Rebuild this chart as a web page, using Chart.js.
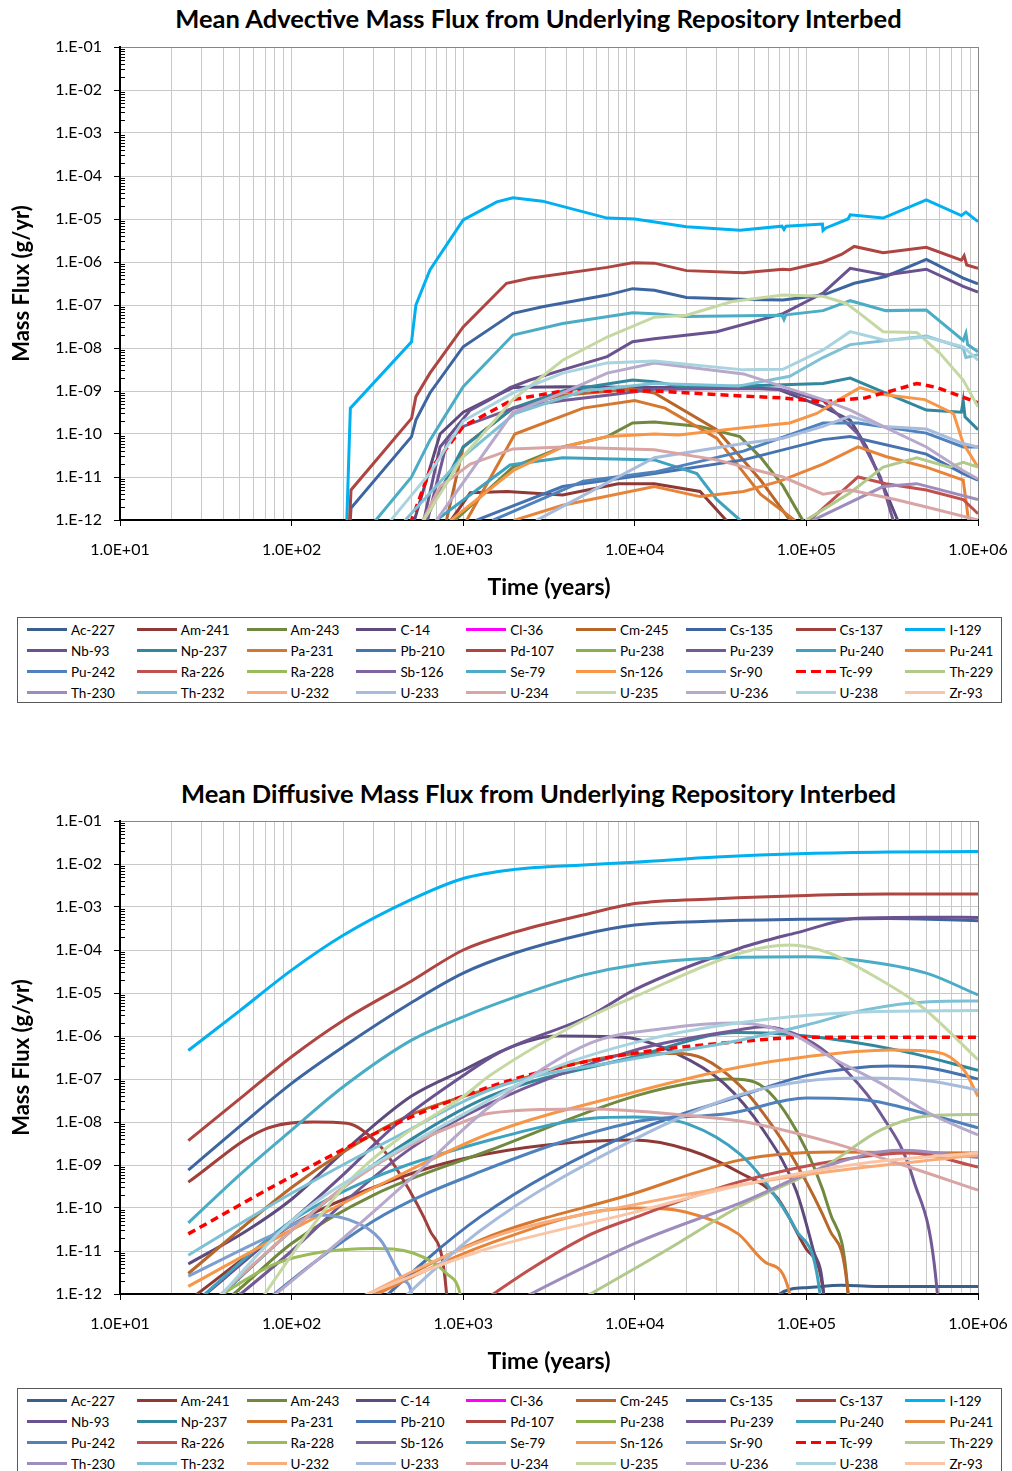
<!DOCTYPE html>
<html>
<head>
<meta charset="utf-8">
<script src="https://cdn.jsdelivr.net/npm/chart.js@4"></script>
<style>
  body { margin: 0; background: #fff; font-family: Lato, "Open Sans", sans-serif; }
  .page { position: relative; width: 1012px; height: 1471px; overflow: hidden; }
  canvas { position: absolute; left: 0; }
  .title { position: absolute; left: 0; width: 1077px; text-align: center; font-weight: bold; font-size: 25.5px; line-height: 28px; color: #000; }
  .legend { position: absolute; left: 17px; width: 985px; height: 86px; border: 1px solid #595959; box-sizing: border-box;
            padding: 1px 0 0 9px; display: grid; grid-template-columns: repeat(9, 109.8px); grid-auto-rows: 21px; }
  .item { display: flex; align-items: center; font-size: 13.5px; color: #000; white-space: nowrap; }
  .swatch { width: 40px; height: 3px; margin-right: 4px; flex: none; }
</style>
</head>
<body>
<div class="page">
  <div class="title" style="top:4px">Mean Advective Mass Flux from Underlying Repository Interbed</div>
  <canvas id="advChart" width="1012" height="612" style="top:0"></canvas>
  <div class="legend" id="advLegend" style="top:617px"></div>

  <div class="title" style="top:779px">Mean Diffusive Mass Flux from Underlying Repository Interbed</div>
  <canvas id="difChart" width="1012" height="612" style="top:774px"></canvas>
  <div class="legend" id="difLegend" style="top:1388px"></div>
</div>
<script>
/* --- names, colours, tick labels --- */
const nuclides = ['Ac-227','Am-241','Am-243','C-14','Cl-36','Cm-245','Cs-135','Cs-137','I-129',
  'Nb-93','Np-237','Pa-231','Pb-210','Pd-107','Pu-238','Pu-239','Pu-240','Pu-241',
  'Pu-242','Ra-226','Ra-228','Sb-126','Se-79','Sn-126','Sr-90','Tc-99','Th-229',
  'Th-230','Th-232','U-232','U-233','U-234','U-235','U-236','U-238','Zr-93'];
const colors = ['#3A5F8D','#8E3936','#71893F','#5E4A7D','#FF00FF','#B8662A','#3D65A0','#A0403D','#00B0F0',
  '#6A5290','#31879E','#D6772F','#4673B0','#AE4541','#8CAF4C','#735A96','#3EA2BF','#E8843A',
  '#4F81BD','#C0504D','#9BBB59','#8064A2','#4BACC6','#F79646','#7E9ECF','#FF0000','#B1C98A',
  '#9E8CBD','#7EC1D4','#F9AC7A','#A7BCDC','#D9A5A4','#C5D8A2','#B7A9CC','#A8D3DF','#FAC4A6'];
const xDecades = [1e1, 1e2, 1e3, 1e4, 1e5, 1e6];
const xTickLabels = ['1.0E+01','1.0E+02','1.0E+03','1.0E+04','1.0E+05','1.0E+06'];
const yDecades = [1e-12, 1e-11, 1e-10, 1e-9, 1e-8, 1e-7, 1e-6, 1e-5, 1e-4, 1e-3, 1e-2, 1e-1];
const yTickLabels = ['1.E-12','1.E-11','1.E-10','1.E-09','1.E-08','1.E-07','1.E-06','1.E-05','1.E-04','1.E-03','1.E-02','1.E-01'];

/* --- advective flux, [time (yr), g/yr] --- */
const advAc227 = [];
const advAm241 = [[830,1e-13],[850,1e-12],[1100,4.3e-12],[1800,4.6e-12],[3800,3.8e-12],[8000,7e-12],[1.3e4,7e-12],[2.4e4,4.6e-12],[3.4e4,1e-12],[3.5e4,1e-13]];
const advAm243 = [[880,1e-13],[900,1e-12],[1950,1.7e-11],[3800,5e-11],[6900,8.7e-11],[9700,1.8e-10],[1.3e4,1.9e-10],[2.4e4,1.5e-10],[4.1e4,8.7e-11],[5.4e4,2.9e-11],[7.3e4,6.2e-12],[9.5e4,1e-12],[9.7e4,1e-13]];
const advC14 = [[500,1e-13],[520,1e-12],[733,1e-10],[1000,3.2e-10],[1430,6.6e-10],[1950,1.2e-9],[3800,1.26e-9],[1.3e4,1.2e-9],[4.3e4,1.2e-9],[6.8e4,1.1e-9],[1.25e5,4.3e-10],[1.8e5,2.1e-10],[2.24e5,5e-11],[2.8e5,6.3e-12],[3.4e5,1e-12],[3.5e5,1e-13]];
const advCl36 = [];
const advCm245 = [[780,1e-13],[800,1e-12],[1000,5e-11],[1950,4e-10],[3800,8e-10],[9700,1.1e-9],[1.3e4,9e-10],[3e4,1.26e-10],[5.4e4,8.5e-12],[8e4,1e-12],[8.2e4,1e-13]];
const advCs135 = [[212,1e-13],[222,1.9e-12],[500,8.7e-11],[530,2.1e-10],[640,9e-10],[1000,1.07e-8],[1950,6.4e-8],[2900,9.1e-8],[6900,1.7e-7],[9700,2.4e-7],[1.3e4,2.2e-7],[2e4,1.5e-7],[4.6e4,1.35e-7],[7.3e4,1.3e-7],[1.25e5,1.7e-7],[1.9e5,3.2e-7],[2.9e5,4.6e-7],[5e5,1.15e-6],[8.2e5,4.2e-7],[1e6,3.1e-7]];
const advCs137 = [];
const advI129 = [[206,1e-13],[220,4e-10],[500,1.4e-8],[530,1e-7],[640,6.5e-7],[1000,9.5e-6],[1570,2.5e-5],[1950,3.1e-5],[2900,2.6e-5],[6900,1.05e-5],[1e4,1e-5],[2e4,6.6e-6],[4.1e4,5.5e-6],[7.2e4,6.8e-6],[7.4e4,5.7e-6],[7.6e4,6.8e-6],[1.24e5,7.6e-6],[1.25e5,5.4e-6],[1.3e5,6.2e-6],[1.75e5,1e-5],[1.8e5,1.25e-5],[2.8e5,1.05e-5],[5e5,2.8e-5],[8e5,1.2e-5],[8.5e5,1.45e-5],[1e6,8.7e-6]];
const advNb93 = [[580,1e-13],[590,1e-12],[733,5e-11],[1100,3.6e-10],[1430,6.3e-10],[1875,1.2e-9],[2450,1.8e-9],[3800,3.1e-9],[6900,6.3e-9],[9700,1.4e-8],[1.3e4,1.65e-8],[3e4,2.4e-8],[7.3e4,6.3e-8],[1.25e5,1.9e-7],[1.8e5,7.1e-7],[2.9e5,5e-7],[5e5,6.8e-7],[8.2e5,2.7e-7],[1e6,2e-7]];
const advNp237 = [[580,1e-13],[600,1e-12],[1000,5e-11],[1950,4e-10],[3800,1e-9],[9700,1.8e-9],[1.3e4,1.65e-9],[2e4,1.2e-9],[4.3e4,1.3e-9],[1.25e5,1.5e-9],[1.8e5,2e-9],[2.9e5,8.9e-10],[5e5,3.6e-10],[8e5,3.2e-10],[8.2e5,6e-10],[8.4e5,2.5e-10],[1e6,1.26e-10]];
const advPa231 = [[1000,1e-13],[1050,1e-12],[2000,1e-10],[5000,4e-10],[1e4,6e-10],[1.5e4,4e-10],[3e4,8e-11],[5.4e4,4e-12],[8.5e4,1e-12],[8.7e4,1e-13]];
const advPb210 = [[1150,1e-13],[1200,1e-12],[3800,6e-12],[1.3e4,1.2e-11],[4.3e4,2.5e-11],[1.25e5,7.4e-11],[1.8e5,8.7e-11],[5e5,3.4e-11],[8.2e5,1.2e-11],[1e6,8.5e-12]];
const advPd107 = [[212,1e-13],[222,5e-12],[500,2.3e-10],[530,7.4e-10],[640,2.6e-9],[1000,3.1e-8],[1790,3.2e-7],[2450,4.2e-7],[6900,7.5e-7],[9700,9.6e-7],[1.3e4,9.4e-7],[2e4,6.3e-7],[4.3e4,5.6e-7],[7.3e4,6.8e-7],[8e4,6.6e-7],[1.25e5,1e-6],[1.6e5,1.5e-6],[1.9e5,2.3e-6],[2.8e5,1.65e-6],[5e5,2.2e-6],[8e5,1.1e-6],[8.3e5,1.4e-6],[8.6e5,8.5e-7],[1e6,7.1e-7]];
const advPu238 = [];
const advPu239 = [[600,1e-13],[620,1e-12],[800,6e-11],[1000,1.5e-10],[1950,4e-10],[3800,6e-10],[6900,8e-10],[1.3e4,1.1e-9],[4.3e4,1.15e-9],[7e4,1.1e-9],[1.25e5,6e-10],[2e5,1e-10],[2.7e5,1e-11],[3.2e5,1e-12],[3.3e5,1e-13]];
const advPu240 = [[680,1e-13],[700,1e-12],[1875,1.9e-11],[3800,2.8e-11],[1.3e4,2.5e-11],[2.3e4,1.2e-11],[3e4,3e-12],[4.1e4,1e-12],[4.2e4,1e-13]];
const advPu241 = [[1950,1e-13],[2000,1e-12],[3800,2.2e-12],[1.3e4,6e-12],[2.4e4,3.5e-12],[4.3e4,4.6e-12],[7e4,8e-12],[1.25e5,2e-11],[2e5,5e-11],[2.9e5,3e-11],[5e5,1.7e-11],[8.2e5,8.5e-12],[8.8e5,1e-12],[9e5,1e-13]];
const advPu242 = [[1450,1e-13],[1500,1e-12],[5000,8e-12],[1.3e4,1.3e-11],[4.3e4,4e-11],[1.25e5,1.8e-10],[2e5,1.8e-10],[5e5,1.05e-10],[8.2e5,5e-11],[1e6,5e-11]];
const advRa226 = [[1e5,1e-13],[1.05e5,1e-12],[2e5,1e-11],[2.9e5,7e-12],[5e5,5e-12],[8.2e5,3e-12],[1e6,1.4e-12]];
const advRa228 = [];
const advSb126 = [];
const advSe79 = [[300,1e-13],[310,1e-12],[500,1e-11],[640,7.2e-11],[1000,1.26e-9],[1950,2e-8],[3800,3.7e-8],[9700,6.6e-8],[1.3e4,6.3e-8],[2e4,5.4e-8],[7.2e4,5.8e-8],[7.4e4,4.6e-8],[7.6e4,5.9e-8],[1.25e5,7.4e-8],[1.8e5,1.26e-7],[2.9e5,7.4e-8],[5e5,7.6e-8],[8.2e5,1.5e-8],[8.5e5,2.2e-8],[8.7e5,1.2e-8],[1e6,8.2e-9]];
const advSn126 = [[830,1e-13],[850,1e-12],[1950,1.4e-11],[3800,5e-11],[6900,8.7e-11],[1.3e4,1e-10],[1.8e4,9.5e-11],[4.3e4,1.4e-10],[8e4,1.8e-10],[1.15e5,3e-10],[1.55e5,6.3e-10],[2.05e5,1.2e-9],[2.8e5,8.3e-10],[4.9e5,6.3e-10],[7.2e5,3e-10],[8.2e5,6e-11],[1e6,1.7e-11]];
const advSr90 = [];
const advTc99 = [[490,1e-13],[500,1e-12],[640,1.45e-11],[1000,1.5e-10],[1950,6.3e-10],[3800,1e-9],[1.3e4,1e-9],[4.3e4,7.6e-10],[7.3e4,6.9e-10],[1.25e5,5.6e-10],[2.2e5,6.9e-10],[3.4e5,1.1e-9],[4.4e5,1.5e-9],[5.8e5,1.2e-9],[1e6,5.3e-10]];
const advTh229 = [[9.5e4,1e-13],[1e5,1e-12],[1.8e5,4.3e-12],[2.8e5,1.7e-11],[4.4e5,2.8e-11],[6.8e5,1.7e-11],[8.2e5,2.2e-11],[1e6,1.7e-11]];
const advTh230 = [[1.05e5,1e-13],[1.1e5,1e-12],[2.8e5,6e-12],[4.4e5,7e-12],[1e6,3e-12]];
const advTh232 = [[450,1e-13],[460,1e-12],[1000,3e-11],[2000,3e-10],[5000,1e-9],[1.3e4,1.5e-9],[4e4,1.3e-9],[8e4,2.2e-9],[1.25e5,6e-9],[1.8e5,1.2e-8],[5e5,1.9e-8],[8.2e5,1e-8],[8.5e5,6e-9],[1e6,7e-9]];
const advU232 = [];
const advU233 = [[2600,1e-13],[2700,1e-12],[1.3e4,2.8e-11],[4.3e4,6e-11],[7.3e4,8e-11],[1.25e5,1.5e-10],[1.8e5,2.6e-10],[2.8e5,1.5e-10],[5e5,1.3e-10],[8.2e5,6e-11],[1e6,5e-11]];
const advU234 = [[570,1e-13],[584,1e-12],[733,6e-12],[1100,2e-11],[1950,4.5e-11],[3800,5e-11],[1.3e4,4.3e-11],[3e4,2.5e-11],[7.3e4,1e-11],[1.25e5,4e-12],[1.8e5,5e-12],[3.3e5,3e-12],[5e5,2e-12],[1e6,1e-12]];
const advU235 = [[580,1e-13],[590,1e-12],[1000,3e-11],[1950,6.3e-10],[3800,5.2e-9],[6900,1.8e-8],[1.3e4,5.2e-8],[2e4,5.8e-8],[3.7e4,1.2e-7],[7.3e4,1.7e-7],[1.25e5,1.6e-7],[1.7e5,1.1e-7],[2.05e5,6.3e-8],[2.8e5,2.4e-8],[4.4e5,2.3e-8],[6e5,7.5e-9],[8.2e5,1.8e-9],[1e6,4.3e-10]];
const advU236 = [[680,1e-13],[700,1e-12],[1950,3.2e-10],[3800,9e-10],[6900,2.6e-9],[1.3e4,4.5e-9],[4.3e4,2.5e-9],[1.25e5,6.3e-10],[1.8e5,3.6e-10],[2.8e5,1.5e-10],[5e5,5e-11],[8.2e5,1.4e-11],[1e6,9e-12]];
const advU238 = [[370,1e-13],[380,1e-12],[640,1.25e-11],[1000,2e-10],[1950,9e-10],[3800,2.6e-9],[6900,4.5e-9],[1.3e4,5e-9],[4.3e4,3.1e-9],[7.3e4,3.2e-9],[1.25e5,9e-9],[1.8e5,2.4e-8],[2.9e5,1.5e-8],[5e5,1.8e-8],[8.2e5,1.07e-8],[1e6,5.2e-9]];
const advZr93 = [];

/* --- diffusive flux, [time (yr), g/yr] --- */
const difAc227 = [[6e4,1e-13],[7e4,1e-12],[1e5,1.4e-12],[1.6e5,1.6e-12],[2.5e5,1.5e-12],[1e6,1.5e-12]];
const difAm241 = [[25,7e-13],[100,4e-11],[300,3e-10],[1000,1.4e-9],[1e4,3.8e-9],[2.1e4,2.2e-9],[4.1e4,6.6e-10],[6.7e4,1.8e-10],[1e5,1.1e-11],[1.26e5,1e-12],[1.3e5,1e-13]];
const difAm243 = [[25,1.6e-13],[46,1e-12],[100,1.5e-11],[300,2e-10],[1430,2.2e-9],[1e4,4e-8],[2.5e4,9e-8],[3.6e4,1e-7],[5e4,8.5e-8],[8.7e4,6.5e-9],[1.37e5,8e-11],[1.75e5,1e-12],[1.8e5,1e-13]];
const difC14 = [[25,5e-12],[55,3e-11],[100,1.6e-10],[200,2e-9],[500,4e-8],[1000,1.6e-7],[2000,6e-7],[3500,1e-6],[8600,9.3e-7],[1.75e4,3.9e-7],[3.3e4,8e-8],[5.6e4,6.5e-9],[8.7e4,2.6e-10],[1.1e5,1e-11],[1.26e5,1e-12],[1.3e5,1e-13]];
const difCl36 = [];
const difCm245 = [[25,3e-12],[100,3e-10],[200,2e-9],[500,1.5e-8],[1430,6e-8],[5000,2.5e-7],[1e4,3.8e-7],[1.75e4,3.9e-7],[2.5e4,3e-7],[4.1e4,7e-8],[5.6e4,1.6e-8],[8.7e4,1.1e-9],[1.37e5,3e-11],[1.75e5,1e-12],[1.8e5,1e-13]];
const difCs135 = [[25,7.6e-10],[50,8e-9],[100,7.9e-8],[200,5.6e-7],[500,6e-6],[1000,2.9e-5],[2000,8.5e-5],[5000,2.3e-4],[1e4,3.8e-4],[3e4,4.7e-4],[1e5,5.2e-4],[3e5,5.4e-4],[1e6,4.8e-4]];
const difCs137 = [[25,4e-10],[68,6.5e-9],[134,1e-8],[210,9.3e-9],[330,2.7e-9],[410,8e-10],[640,3e-11],[800,1e-12],[820,1e-13]];
const difI129 = [[25,4.6e-7],[50,3.9e-6],[100,3.4e-5],[200,2.2e-4],[500,1.5e-3],[1000,4.6e-3],[2000,7.5e-3],[5000,9.5e-3],[1e4,1.1e-2],[3e4,1.45e-2],[1e5,1.75e-2],[3e5,1.9e-2],[1e6,1.95e-2]];
const difNb93 = [[25,4.5e-13],[100,5e-11],[200,6e-10],[410,9e-9],[1000,1.2e-7],[1600,4e-7],[5500,3e-6],[1e4,1.2e-5],[4.1e4,1.1e-4],[8.7e4,2.5e-4],[2e5,5.5e-4],[5e5,5.8e-4],[1e6,5.7e-4]];
const difNp237 = [[25,1.8e-13],[100,3e-11],[200,3e-10],[500,4e-9],[1430,4e-8],[1e4,3.3e-7],[4e4,1.2e-6],[1e5,1e-6],[3.4e5,4.7e-7],[1e6,1.6e-7]];
const difPa231 = [[100,8e-14],[1260,1.8e-11],[1e4,2.2e-10],[4.1e4,1.3e-9],[1.4e5,2e-9],[1e6,1.9e-9]];
const difPb210 = [[150,4e-14],[1260,6.3e-11],[1e4,6e-9],[4.1e4,4e-8],[1e5,1.2e-7],[3.1e5,2e-7],[5.2e5,1.8e-7],[1e6,1e-7]];
const difPd107 = [[25,3.7e-9],[50,3.5e-8],[100,3.3e-7],[200,2.3e-6],[500,1.9e-5],[1000,1e-4],[2000,2.6e-4],[5000,6.5e-4],[1e4,1.2e-3],[3e4,1.55e-3],[1e5,1.85e-3],[3e5,2e-3],[1e6,2e-3]];
const difPu238 = [];
const difPu239 = [[25,1e-13],[100,1e-11],[200,1.3e-10],[500,2.5e-9],[1430,2.7e-8],[1e4,4.7e-7],[4.1e4,1.4e-6],[5.6e4,1.65e-6],[1.1e5,6.8e-7],[1.75e5,1.4e-7],[2.7e5,1.6e-8],[4.2e5,4.6e-10],[5.8e5,1e-12],[6e5,1e-13]];
const difPu240 = [[25,4.6e-13],[100,5e-11],[300,5e-10],[1430,3.8e-9],[5500,1.2e-8],[1e4,1.3e-8],[2.1e4,8.6e-9],[4.1e4,1.8e-9],[5.6e4,4.6e-10],[8.7e4,3.1e-11],[1.2e5,1e-12],[1.25e5,1e-13]];
const difPu241 = [[100,1e-13],[1430,1.5e-11],[1e4,1e-10],[2e4,8e-11],[4e4,2.5e-11],[6e4,5e-12],[8e4,1e-12],[8.2e4,1e-13]];
const difPu242 = [[25,2.4e-14],[300,5e-11],[1260,7e-10],[1e4,1e-8],[3.6e4,1.6e-8],[1e5,3.6e-8],[2.15e5,3.3e-8],[5.2e5,1.5e-8],[1e6,7.3e-9]];
const difRa226 = [[500,5e-14],[5000,2e-11],[1e4,6e-11],[4e4,4e-10],[1.75e5,1.4e-9],[4e5,1.9e-9],[1e6,9e-10]];
const difRa228 = [[25,3e-13],[80,5e-12],[150,9.5e-12],[300,1.15e-11],[510,9e-12],[800,3e-12],[960,1e-12],[1050,1e-13]];
const difSb126 = [];
const difSe79 = [[25,4.5e-11],[50,6e-10],[100,6.5e-9],[200,6.6e-8],[500,8e-7],[1000,2.8e-6],[2000,8e-6],[5000,2.6e-5],[1e4,4.5e-5],[3e4,6.5e-5],[1e5,7e-5],[2e5,5.8e-5],[5e5,2.9e-5],[1e6,9e-6]];
const difSn126 = [[25,1.5e-12],[100,3.1e-11],[410,5.4e-10],[1430,5.4e-9],[1e4,5e-8],[4.1e4,1.9e-7],[1e5,3.3e-7],[3.1e5,4.7e-7],[5.8e5,4.2e-7],[8.3e5,1.6e-7],[1e6,3.9e-8]];
const difSr90 = [[25,2.6e-12],[80,2.5e-11],[147,6.9e-11],[240,4.5e-11],[330,1.8e-11],[450,2.1e-12],[500,1e-12],[520,1e-13]];
const difTc99 = [[25,2.5e-11],[100,5.4e-10],[410,9.3e-9],[1430,6.6e-8],[3500,1.8e-7],[1e4,4e-7],[4.1e4,7.4e-7],[1e5,9.3e-7],[1e6,9.3e-7]];
const difTh229 = [[2000,1e-13],[1.5e4,1e-11],[4.1e4,1.1e-10],[1.37e5,1.1e-9],[2.7e5,6.5e-9],[5.2e5,1.4e-8],[1e6,1.5e-8]];
const difTh230 = [[800,1e-13],[1e4,1.5e-11],[4.1e4,1.3e-10],[1.37e5,1e-9],[3.5e5,2.2e-9],[1e6,1.5e-9]];
const difTh232 = [[25,8e-12],[100,2.2e-10],[410,4.6e-9],[1600,6.6e-8],[1e4,3e-7],[4.1e4,8e-7],[1e5,1.8e-6],[2.15e5,4e-6],[5.2e5,6.3e-6],[1e6,6.5e-6]];
const difU232 = [[90,1e-13],[1430,2e-11],[1e4,1.2e-10],[1e5,6e-10],[1e6,1.7e-9]];
const difU233 = [[250,9e-14],[1260,3e-11],[1e4,4e-9],[4.1e4,4.3e-8],[1e5,9e-8],[2.15e5,1.05e-7],[5.2e5,9e-8],[1e6,5.5e-8]];
const difU234 = [[25,2e-13],[100,3e-11],[200,3e-10],[500,3e-9],[1000,1e-8],[1430,1.6e-8],[5500,2e-8],[2.1e4,1.4e-8],[4.1e4,1.05e-8],[1.37e5,3.4e-9],[3.4e5,1.1e-9],[1e6,2.6e-10]];
const difU235 = [[40,4e-14],[200,3e-10],[410,3.8e-9],[1000,3.9e-8],[1430,1.2e-7],[5500,2.8e-6],[1e4,8.2e-6],[4.1e4,8.4e-5],[8e4,1.3e-4],[1.37e5,8.4e-5],[2.15e5,3.4e-5],[4.7e5,4.8e-6],[1e6,2.8e-7]];
const difU236 = [[40,1e-13],[200,2e-11],[500,5e-10],[1430,2.3e-8],[5500,6.8e-7],[1.5e4,1.5e-6],[4e4,2e-6],[8.7e4,1e-6],[1.37e5,3.3e-7],[2.7e5,8e-8],[5.2e5,1.6e-8],[1e6,5e-9]];
const difU238 = [[25,1.3e-13],[100,5e-11],[300,1e-9],[1000,1.5e-8],[3000,1.5e-7],[1e4,7e-7],[3.6e4,1.9e-6],[2.15e5,3.6e-6],[1e6,3.9e-6]];
const difZr93 = [[70,1e-13],[1260,1e-11],[1e4,8e-11],[3.6e4,3e-10],[2.15e5,1.1e-9],[1e6,1.9e-9]];

const advSeries = [advAc227, advAm241, advAm243, advC14, advCl36, advCm245, advCs135, advCs137, advI129,
  advNb93, advNp237, advPa231, advPb210, advPd107, advPu238, advPu239, advPu240, advPu241,
  advPu242, advRa226, advRa228, advSb126, advSe79, advSn126, advSr90, advTc99, advTh229,
  advTh230, advTh232, advU232, advU233, advU234, advU235, advU236, advU238, advZr93];
const difSeries = [difAc227, difAm241, difAm243, difC14, difCl36, difCm245, difCs135, difCs137, difI129,
  difNb93, difNp237, difPa231, difPb210, difPd107, difPu238, difPu239, difPu240, difPu241,
  difPu242, difRa226, difRa228, difSb126, difSe79, difSn126, difSr90, difTc99, difTh229,
  difTh230, difTh232, difU232, difU233, difU234, difU235, difU236, difU238, difZr93];

/* --- axis helpers --- */
const xTickValues = [];
for (let e = 1; e <= 5; e++) for (let m = 1; m <= 9; m++) xTickValues.push(m * Math.pow(10, e));
xTickValues.push(1e6);

const FONT = 'Lato';

// small inward tick marks between the decades on the y axis
const minorTicks = {
  id: 'minorTicks',
  afterDraw(chart) {
    const y = chart.scales.y, ctx = chart.ctx;
    ctx.save();
    ctx.strokeStyle = '#000';
    ctx.lineWidth = 1;
    ctx.beginPath();
    for (let e = -12; e < -1; e++) {
      for (let m = 2; m <= 9; m++) {
        const py = Math.round(y.getPixelForValue(m * Math.pow(10, e))) + 0.5;
        ctx.moveTo(y.right, py);
        ctx.lineTo(y.right + 5, py);
      }
    }
    ctx.stroke();
    ctx.restore();
  }
};

function makeChart(canvasId, series, smooth) {
  const datasets = series.map((pts, i) => ({
    label: nuclides[i],
    data: pts.map(p => ({ x: p[0], y: p[1] })),
    borderColor: colors[i],
    borderWidth: nuclides[i] === 'Tc-99' ? 3.5 : 3,
    borderDash: nuclides[i] === 'Tc-99' ? [8, 5] : [],
    pointRadius: 0,
    fill: false,
    tension: smooth ? 0.4 : 0,
    cubicInterpolationMode: smooth ? 'monotone' : 'default',
    order: -i
  }));

  return new Chart(document.getElementById(canvasId), {
    type: 'line',
    data: { datasets },
    options: {
      responsive: false,
      animation: false,
      events: [],
      layout: { padding: { top: 47, right: 34, bottom: 11, left: 0 } },
      plugins: { legend: { display: false }, tooltip: { enabled: false }, title: { display: false } },
      scales: {
        x: {
          type: 'logarithmic', min: 10, max: 1e6,
          afterBuildTicks: ax => { ax.ticks = xTickValues.map(v => ({ value: v })); },
          afterFit: s => { s.height = 81; s.paddingLeft = 0; s.paddingRight = 0; },
          ticks: {
            autoSkip: false, maxRotation: 0, color: '#000', padding: 14,
            font: { family: FONT, size: 16 },
            callback: v => { const k = xDecades.indexOf(v); return k >= 0 ? xTickLabels[k] : ''; }
          },
          grid: {
            color: c => (c.tick && c.tick.value === 1e6) ? '#868686' : '#c8c8c8',
            tickColor: c => (c.tick && xDecades.includes(c.tick.value)) ? '#000' : 'rgba(0,0,0,0)',
            tickLength: 6
          },
          border: { color: '#000', width: 2 },
          title: { display: true, text: 'Time (years)', color: '#000', padding: 0, font: { family: FONT, size: 23, weight: 'bold' } }
        },
        y: {
          type: 'logarithmic', min: 1e-12, max: 1e-1,
          afterBuildTicks: ax => { ax.ticks = yDecades.map(v => ({ value: v })); },
          afterFit: s => { s.width = 120; },
          ticks: {
            color: '#000', padding: 12,
            font: { family: FONT, size: 16 },
            callback: v => { const k = yDecades.indexOf(v); return k >= 0 ? yTickLabels[k] : ''; }
          },
          grid: {
            color: c => (c.tick && c.tick.value === 1e-1) ? '#868686' : '#c8c8c8',
            tickColor: '#000',
            tickLength: 6
          },
          border: { color: '#000', width: 2 },
          title: { display: true, text: 'Mass Flux (g/yr)', color: '#000', padding: { top: 9, bottom: 0 }, font: { family: FONT, size: 22, weight: 'bold' } }
        }
      }
    },
    plugins: [minorTicks]
  });
}

function makeLegend(id) {
  const box = document.getElementById(id);
  nuclides.forEach((name, i) => {
    const item = document.createElement('div');
    item.className = 'item';
    const sw = document.createElement('span');
    sw.className = 'swatch';
    sw.style.background = name === 'Tc-99'
      ? 'repeating-linear-gradient(90deg,' + colors[i] + ' 0 10px, transparent 10px 15px)'
      : colors[i];
    item.appendChild(sw);
    item.appendChild(document.createTextNode(name));
    box.appendChild(item);
  });
}

makeChart('advChart', advSeries, false);
makeChart('difChart', difSeries, true);
makeLegend('advLegend');
makeLegend('difLegend');
</script>
</body>
</html>
